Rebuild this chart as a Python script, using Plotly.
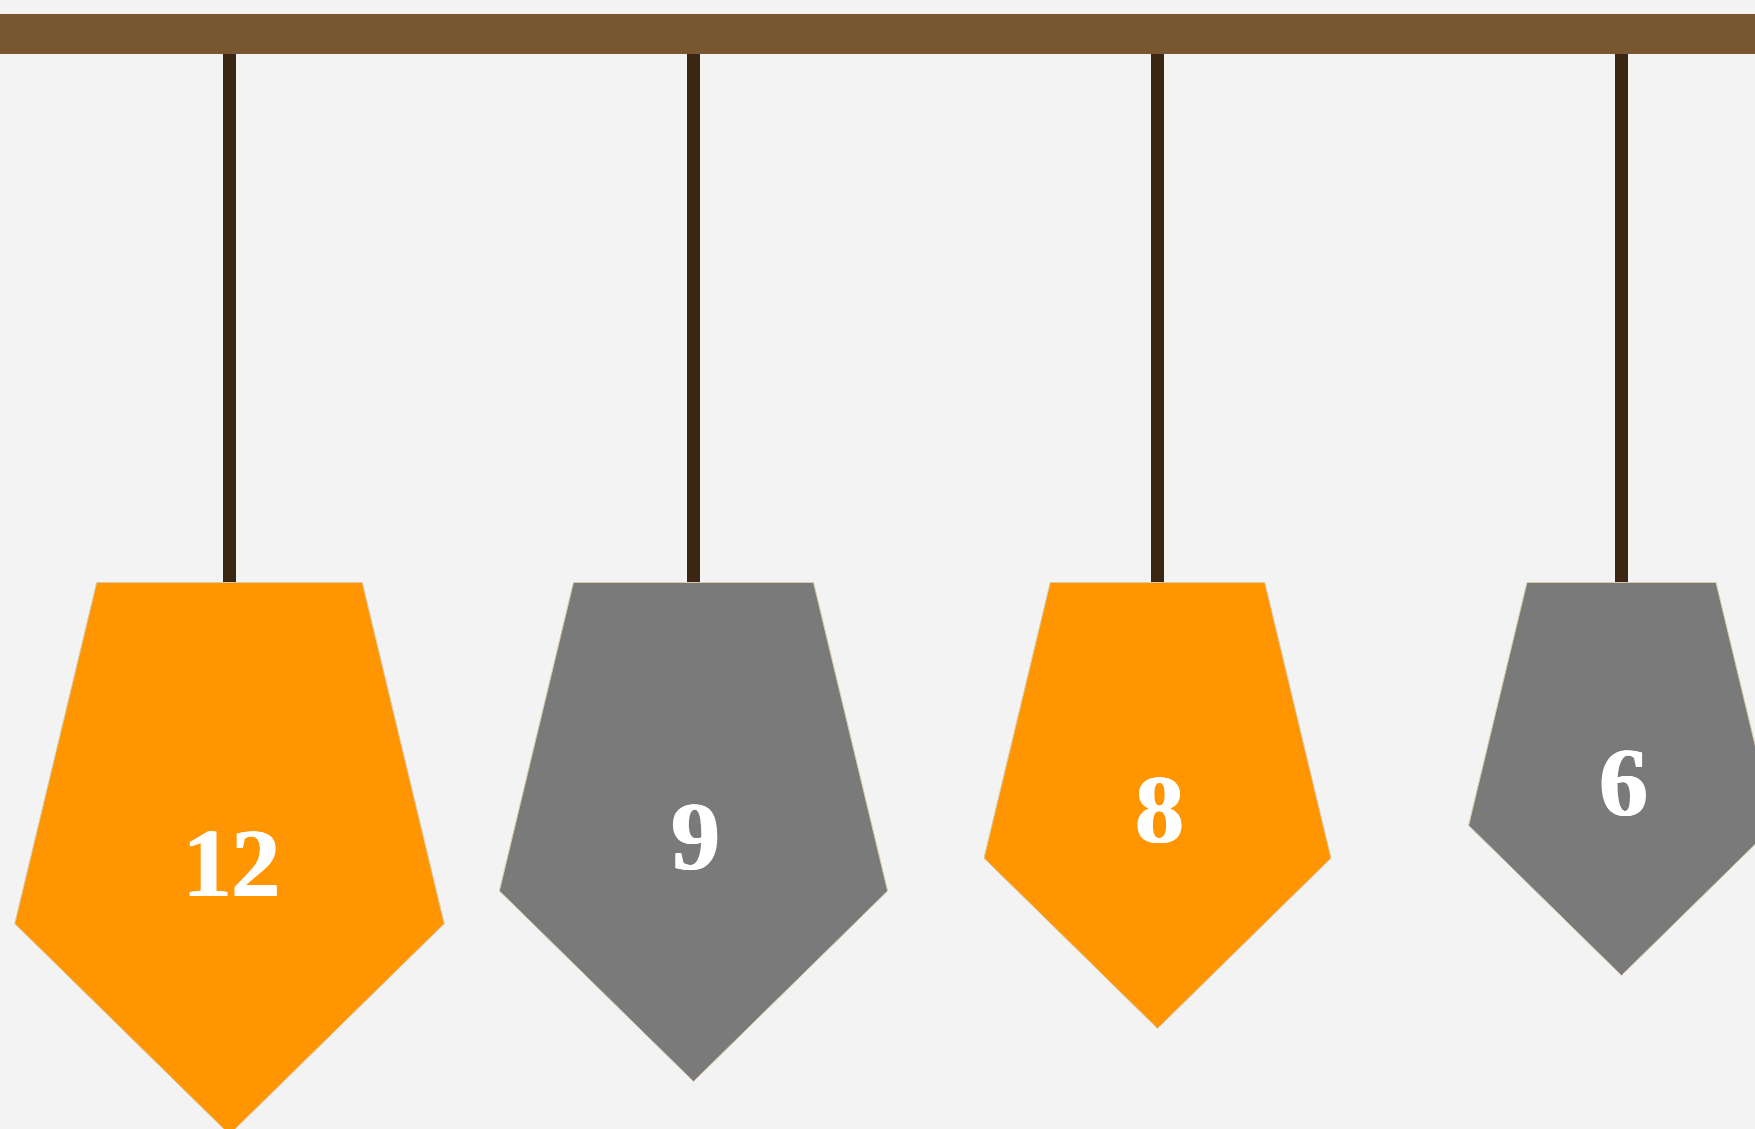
import plotly.graph_objects as go

# ---- data ----
labels = ["12", "9", "8", "6"]
values = [12, 9, 8, 6]
colors = ["#FF9500", "#7A7A7A", "#FF9500", "#7A7A7A"]

# ---- styling / layout constants ----
W, H_PX = 1755, 1129
SLOT_PX = 464.0                 # horizontal spacing between pendants (px)
FIRST_CENTER_PX = 229.5
RAIL_TOP, RAIL_BOT = 14, 54
PEND_TOP = 582.5
H_MAX, H_STEP = 552.0, 53.0     # pendant height by rank
X_SQUEEZE = 0.74                # horizontal squeeze of the regular pentagon

x0 = -FIRST_CENTER_PX / SLOT_PX
x1 = x0 + W / SLOT_PX

order = sorted(range(len(values)), key=lambda i: -values[i])
rank = {idx: r for r, idx in enumerate(order)}

fig = go.Figure()

# strings
for i, v in enumerate(values):
    fig.add_trace(go.Scatter(
        x=[i, i], y=[RAIL_BOT, PEND_TOP + 2], mode="lines",
        line=dict(color="#3A2612", width=13), hoverinfo="skip"))

# pendants
for i, v in enumerate(values):
    h = H_MAX - H_STEP * rank[i]
    R = h / 1.809
    top_hw = 0.588 * R * X_SQUEEZE / SLOT_PX
    mid_hw = 0.951 * R * X_SQUEEZE / SLOT_PX
    mid_y = PEND_TOP + (0.809 + 0.309) * R
    tip_y = PEND_TOP + h
    xs = [i - top_hw, i + top_hw, i + mid_hw, i, i - mid_hw, i - top_hw]
    ys = [PEND_TOP, PEND_TOP, mid_y, tip_y, mid_y, PEND_TOP]
    fig.add_trace(go.Scatter(
        x=xs, y=ys, mode="lines", fill="toself", fillcolor=colors[i],
        line=dict(color="#D9C9AA", width=1), hoverinfo="skip"))
    fig.add_trace(go.Scatter(
        x=[i + 2.0 / SLOT_PX], y=[PEND_TOP + 0.51 * h + 8], mode="text",
        text=[labels[i]],
        textposition="middle center",
        textfont=dict(family="Liberation Serif", size=97, color="white", weight="bold",
                      shadow="1px 0 0 #ffffff, -1px 0 0 #ffffff"),
        hoverinfo="skip"))

fig.add_shape(type="rect", xref="paper", yref="y", x0=0, x1=1,
              y0=RAIL_TOP, y1=RAIL_BOT, fillcolor="#785730", line=dict(width=0),
              layer="above")

fig.update_layout(
    width=W, height=H_PX,
    margin=dict(l=0, r=0, t=0, b=0),
    paper_bgcolor="#F3F3F3", plot_bgcolor="#F3F3F3",
    showlegend=False,
    xaxis=dict(range=[x0, x1], visible=False, fixedrange=True),
    yaxis=dict(range=[H_PX, 0], visible=False, fixedrange=True),
)

fig.write_html("out.html", config={"displayModeBar": False})

# remove the default page margin so the figure sits at the window origin
with open("out.html", "r", encoding="utf-8") as f:
    html = f.read()
html = html.replace("<body>", '<body style="margin:0;padding:0;background:#F3F3F3;overflow:hidden">', 1)
with open("out.html", "w", encoding="utf-8") as f:
    f.write(html)
